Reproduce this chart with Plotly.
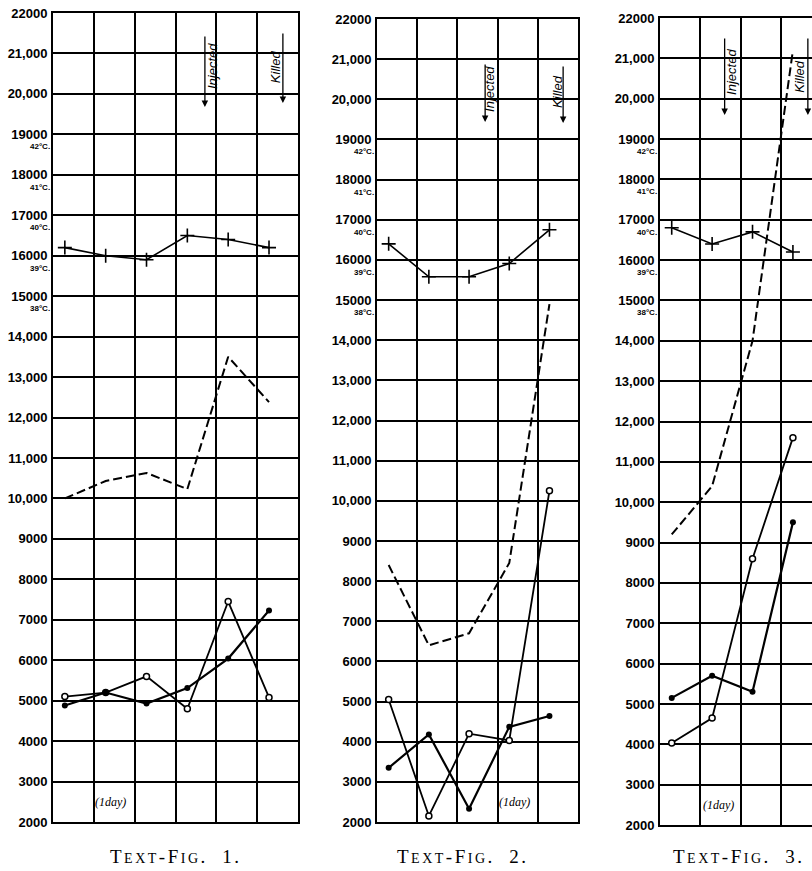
import plotly.graph_objects as go

# ---------------- data ----------------
y_tick_vals = [22000, 21000, 20000, 19000, 18000, 17000, 16000, 15000, 14000, 13000,
               12000, 11000, 10000, 9000, 8000, 7000, 6000, 5000, 4000, 3000, 2000]
y_tick_text = ["22000", "21,000", "20,000", "19000", "18000", "17000", "16000", "15000",
               "14,000", "13,000", "12,000", "11,000", "10,000", "9000", "8000", "7000",
               "6000", "5000", "4000", "3000", "2000"]
temp_tick_vals = [19000, 18000, 17000, 16000, 15000]
temp_tick_text = ["42°C.", "41°C.", "40°C.", "39°C.", "38°C."]

# Text-Fig. 1
days1 = [1, 2, 3, 4, 5, 6]
temp1 = [16200, 16000, 15900, 16500, 16400, 16200]
dash1 = [10000, 10430, 10630, 10230, 13500, 12380]
open1 = [5100, 5200, 5600, 4800, 7450, 5080]
fill1 = [4880, 5200, 4930, 5310, 6040, 7230]

# Text-Fig. 2
days2 = [1, 2, 3, 4, 5]
temp2 = [16400, 15580, 15580, 15910, 16750]
dash2 = [8400, 6400, 6700, 8450, 14900]
open2 = [5050, 2150, 4200, 4030, 10250]
fill2 = [3350, 4180, 2330, 4370, 4640]

# Text-Fig. 3
days3 = [1, 2, 3, 4]
temp3 = [16800, 16400, 16700, 16200]
dash3 = [9200, 10400, 14000, 21200]
open3 = [4030, 4650, 8600, 11600]
fill3 = [5150, 5700, 5300, 9500]

fig_numbers = ["1", "2", "3"]
day_label = "(1day)"

# event marks: (label, text x, text y centre, arrow x, arrow top, arrow bottom) in data units
events1 = [("Injected", 4.63, 20690, 4.43, 21456, 19676),
           ("Killed", 6.15, 20665, 6.34, 21530, 19775)]
events2 = [("Injected", 3.52, 20257, 3.40, 20904, 19435),
           ("Killed", 5.21, 20207, 5.34, 20854, 19410)]
events3 = [("Injected", 2.49, 20662, 2.31, 21529, 19596),
           ("Killed", 4.17, 20563, 4.37, 21529, 19596)]
day_label_pos = [(2.11, 2494), (4.14, 2500), (2.17, 2496)]

# ---------------- layout geometry ----------------
W, H = 812, 871
OFF = 0.71
panels = [
    dict(x0=53, x1=298, top=13, bottom=822, ncols=6, mirror=True,
         days=days1, temp=temp1, dash=dash1, opn=open1, fil=fill1, events=events1, cap_x=176),
    dict(x0=377, x1=578, top=19, bottom=822, ncols=5, mirror=True,
         days=days2, temp=temp2, dash=dash2, opn=open2, fil=fill2, events=events2, cap_x=463),
    dict(x0=660, x1=812, top=18, bottom=825, ncols=(812 - 660) / 40.4, mirror=False,
         days=days3, temp=temp3, dash=dash3, opn=open3, fil=fill3, events=events3, cap_x=739),
]


def fx(p):
    return p / W


def fy(p):
    return 1 - p / H


def caption(n):
    sc = "font-size:14px;letter-spacing:2.5px"
    return (f"<span style='letter-spacing:2.5px'>T<span style='{sc}'>EXT</span>-F"
            f"<span style='{sc}'>IG</span>.  {n}.</span>")


fig = go.Figure()
annotations = []
tickfont = dict(family="Liberation Sans, Arial, sans-serif", size=13, color="black", weight="bold")
evfont = dict(family="Liberation Sans Narrow, Liberation Sans, sans-serif", size=13, color="black", style="italic")

for i, p in enumerate(panels, start=1):
    xa = "x" if i == 1 else f"x{i}"
    ya = "y" if i == 1 else f"y{i}"
    fig.add_trace(go.Scatter(x=p["days"], y=p["temp"], mode="lines+markers", xaxis=xa, yaxis=ya,
                             line=dict(color="black", width=1.6),
                             marker=dict(symbol="cross-thin", size=10, line=dict(color="black", width=1.6)),
                             showlegend=False, cliponaxis=False))
    fig.add_trace(go.Scatter(x=p["days"], y=p["dash"], mode="lines", xaxis=xa, yaxis=ya,
                             line=dict(color="black", width=2, dash="9px,4px"), showlegend=False))
    fig.add_trace(go.Scatter(x=p["days"], y=p["opn"], mode="lines+markers", xaxis=xa, yaxis=ya,
                             line=dict(color="black", width=1.8),
                             marker=dict(symbol="circle", size=6, color="white",
                                         line=dict(color="black", width=1.5)),
                             showlegend=False))
    fig.add_trace(go.Scatter(x=p["days"], y=p["fil"], mode="lines+markers", xaxis=xa, yaxis=ya,
                             line=dict(color="black", width=2.2),
                             marker=dict(symbol="circle", size=6, color="black"),
                             showlegend=False))

    xkey = "xaxis" if i == 1 else f"xaxis{i}"
    ykey = "yaxis" if i == 1 else f"yaxis{i}"
    fig.update_layout(**{
        xkey: dict(domain=[fx(p["x0"]), min(1, fx(p["x1"]))], range=[OFF, OFF + p["ncols"]],
                   tick0=OFF, dtick=1, showgrid=True, gridcolor="black", gridwidth=1.5,
                   showticklabels=False, ticks="", zeroline=False, showline=True,
                   linecolor="black", linewidth=2, mirror=True, anchor=ya,
                   automargin=False, fixedrange=True),
        ykey: dict(domain=[fy(p["bottom"]), fy(p["top"])], range=[2000, 22000],
                   tickmode="array", tickvals=y_tick_vals, ticktext=y_tick_text,
                   showgrid=True, gridcolor="black", gridwidth=1.5, ticks="",
                   tickfont=tickfont, ticklabelstandoff=1, zeroline=False, showline=True,
                   linecolor="black", linewidth=2, mirror=p["mirror"], anchor=xa,
                   automargin=False, fixedrange=True),
    })

    for tv, tt in zip(temp_tick_vals, temp_tick_text):
        annotations.append(dict(x=0, y=tv, xref=f"{xa} domain", yref=ya, text=tt,
                                showarrow=False, xanchor="right", yanchor="top",
                                xshift=-1, yshift=-6,
                                font=dict(family="Liberation Sans, Arial, sans-serif", size=8,
                                          color="black", weight="bold")))

    for label, tx, ty, axx, ytop, ybot in p["events"]:
        annotations.append(dict(x=tx, y=ty, xref=xa, yref=ya, text=label, textangle=-90,
                                showarrow=False, font=evfont))
        annotations.append(dict(x=axx, y=ybot, ax=axx, ay=ytop, xref=xa, yref=ya,
                                axref=xa, ayref=ya, text="", showarrow=True,
                                arrowhead=2, arrowsize=1, arrowwidth=1.3, arrowcolor="black"))

    dx, dy = day_label_pos[i - 1]
    annotations.append(dict(x=dx, y=dy, xref=xa, yref=ya, text=day_label, showarrow=False,
                            font=dict(family="Liberation Serif, serif", size=12, color="black",
                                      style="italic")))

    annotations.append(dict(x=fx(p["cap_x"]), y=fy(856), xref="paper", yref="paper",
                            text=caption(fig_numbers[i - 1]), showarrow=False,
                            xanchor="center", yanchor="middle",
                            font=dict(family="Liberation Serif, serif", size=19, color="black")))

fig.update_layout(width=W, height=H, margin=dict(l=0, r=0, t=0, b=0),
                  paper_bgcolor="white", plot_bgcolor="white", annotations=annotations)

fig.write_html("out.html", config={"displayModeBar": False},
               post_script="document.body.style.margin='0';document.body.style.overflow='hidden';")
